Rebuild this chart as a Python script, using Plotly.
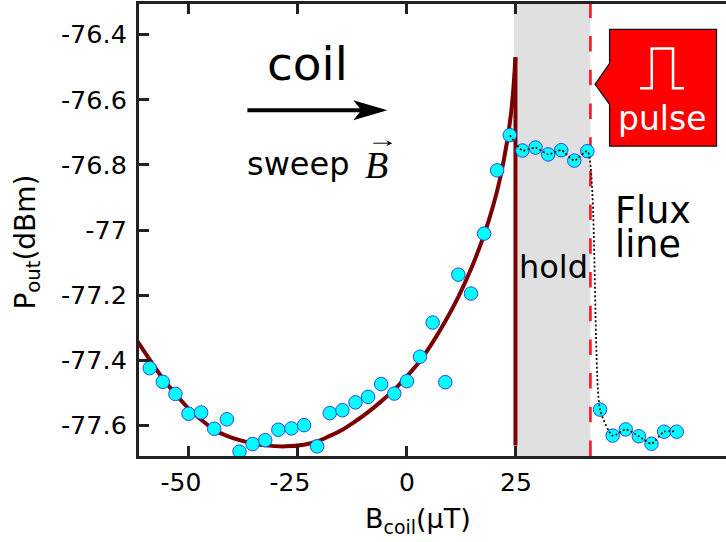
import plotly.graph_objects as go

FONT = "DejaVu Sans"
W, H = 726, 542
L, R, T, B = 138.5, 726, 3.5, 456.5

# Measured data
b_points = [-59, -56, -53.1, -50.1, -47.2, -44.2, -41.3, -38.4, -35.4, -32.5, -29.5, -26.5, -23.6,
            -20.6, -17.7, -14.8, -11.8, -8.9, -5.9, -2.9, 0, 3, 5.9, 8.8, 11.8, 14.7, 17.7, 20.7]
p_points = [-77.424, -77.466, -77.503, -77.564, -77.560, -77.610, -77.581, -77.680, -77.657, -77.645,
            -77.613, -77.609, -77.599, -77.664, -77.562, -77.553, -77.529, -77.512, -77.473, -77.502,
            -77.464, -77.389, -77.284, -77.467, -77.137, -77.195, -77.011, -76.817]
b_pulse = [23.6, 26.5, 29.5, 32.4, 35.4, 38.4, 41.4, 44.3, 47.2, 50.2, 53.2, 56.1, 59, 61.9]
p_pulse = [-76.709, -76.756, -76.747, -76.768, -76.755, -76.787, -76.758, -77.551, -77.631, -77.612,
           -77.633, -77.656, -77.619, -77.619]
b_curve = [-61.8, -59, -56, -53.1, -50.1, -47.2, -44.2, -41.3, -38.4, -35.4, -32.5, -27.9, -23.6, -20.6,
           -17.7, -14.8, -11.8, -8.9, -5.9, -2.9, 0, 3, 5.9, 8.8, 11.8, 14.7, 17.7, 19.8, 21.4, 22.9,
           23.9, 24.4, 24.9]
p_curve = [-77.342, -77.398, -77.456, -77.503, -77.548, -77.582, -77.613, -77.632, -77.645, -77.655,
           -77.661, -77.664, -77.659, -77.649, -77.632, -77.613, -77.587, -77.559, -77.526, -77.490,
           -77.449, -77.402, -77.345, -77.280, -77.205, -77.120, -77.015, -76.925, -76.840, -76.735,
           -76.640, -76.570, -76.47]
b_drop = [24.9, 24.9]
p_drop = [-76.47, -77.661]
hold_start, hold_end = 24.6, 42.1
x_ticks = [-50, -25, 0, 25]
x_labels = ["-50\u00a0\u00a0", "-25\u00a0\u00a0", "0", "25"]
y_ticks = [-76.4, -76.6, -76.8, -77, -77.2, -77.4, -77.6]
y_labels = ["-76.4", "-76.6", "-76.8", "-77", "-77.2", "-77.4", "-77.6"]


def px(x):
    return (x - L) / (R - L)


def py(y):
    return (B - y) / (B - T)


def path(points, close=False):
    s = "M" + " L".join(f"{px(a):.5f},{py(b):.5f}" for a, b in points)
    return s + (" Z" if close else "")


fig = go.Figure()
fig.add_trace(go.Scatter(x=b_curve, y=p_curve, mode="lines", line=dict(color="#7b0000", width=4, shape="spline"),
                         showlegend=False))
fig.add_trace(go.Scatter(x=b_drop, y=p_drop, mode="lines", line=dict(color="#7b0000", width=4), showlegend=False))
marker = dict(color="#00ffff", size=13.5, line=dict(color="#2a45f0", width=1))
fig.add_trace(go.Scatter(x=b_points, y=p_points, mode="markers", marker=marker, showlegend=False))
fig.add_trace(go.Scatter(x=b_pulse, y=p_pulse, mode="markers", marker=marker, showlegend=False))
fig.add_trace(go.Scatter(x=b_pulse, y=p_pulse, mode="lines",
                         line=dict(color="#111111", width=1.8, dash="2px,2.2px", shape="spline", smoothing=0.6),
                         showlegend=False))

shapes = [
    dict(type="rect", xref="x", yref="paper", x0=hold_start, x1=hold_end, y0=0, y1=1,
         fillcolor="#e0e0e0", line_width=0, layer="below"),
    dict(type="line", xref="x", yref="paper", x0=hold_end, x1=hold_end, y0=0, y1=1, layer="below",
         line=dict(color="#ff1428", width=2.6, dash="15.5px,18.2px")),
    dict(type="path", xref="paper", yref="paper", fillcolor="#ff0000", line=dict(color="#111111", width=1.3),
         path=path([(609.5, 29), (716.5, 29), (716.5, 146), (609.5, 146), (609.5, 104), (595, 84), (609.5, 63)], True)),
    dict(type="path", xref="paper", yref="paper", line=dict(color="white", width=2.5),
         path=path([(640, 88), (651.7, 88), (651.7, 48), (673, 48), (673, 88), (684, 88)])),
    dict(type="path", xref="paper", yref="paper", line=dict(color="black", width=3.8),
         path=path([(247, 110), (365, 110)])),
    dict(type="path", xref="paper", yref="paper", fillcolor="black", line_width=0,
         path=path([(387, 110), (353, 100), (361, 110), (353, 120)], True)),
    dict(type="path", xref="paper", yref="paper", line=dict(color="black", width=1),
         path=path([(373, 143), (390, 143)])),
    dict(type="path", xref="paper", yref="paper", fillcolor="black", line_width=0,
         path=path([(392, 143), (386, 140), (388, 143), (386, 146)], True)),
]


def label(text, x, y, size, color="black", rot=0, family=FONT):
    return dict(text=text, xref="paper", yref="paper", x=px(x), y=py(y), xanchor="center", yanchor="middle",
                showarrow=False, textangle=rot, font=dict(family=family, size=size, color=color))


annotations = [
    label("coil", 307, 63, 47),
    label("sweep", 298, 164, 32),
    label("<i>B</i>", 376, 165, 38, family="Liberation Serif"),
    label("hold", 553, 267, 32),
    label("Flux", 653, 210, 36.5),
    label("line", 648, 245, 36.5),
    label("pulse", 662, 118, 33, color="white"),
    label("B<sub>coil</sub>(µT)", 418, 521, 27),
    label("P<sub>out</sub>(dBm)", 27, 242, 28, rot=-90),
]

fig.update_layout(
    width=W, height=H, margin=dict(l=L, r=W - R, t=T, b=H - B), paper_bgcolor="white", plot_bgcolor="white",
    shapes=shapes, annotations=annotations, showlegend=False,
    font=dict(family=FONT, color="black"),
    xaxis=dict(range=[-61.46, 73.2], tickvals=x_ticks, ticktext=x_labels, ticks="inside", ticklen=10, tickwidth=2.5,
               tickcolor="#222", showgrid=False, zeroline=False, showline=True, linecolor="#222", linewidth=3,
               mirror="ticks", tickfont=dict(size=25, family=FONT), ticklabelstandoff=2),
    yaxis=dict(range=[-77.6936, -76.3064], tickvals=y_ticks, ticktext=y_labels, ticks="inside", ticklen=10, tickwidth=2.5,
               tickcolor="#222", showgrid=False, zeroline=False, showline=True, linecolor="#222", linewidth=3,
               tickfont=dict(size=25.5, family=FONT), ticklabelstandoff=4),
)
fig.write_html("out.html", config=dict(displayModeBar=False),
               post_script="document.body.style.margin='0';document.documentElement.style.overflow='hidden';")
